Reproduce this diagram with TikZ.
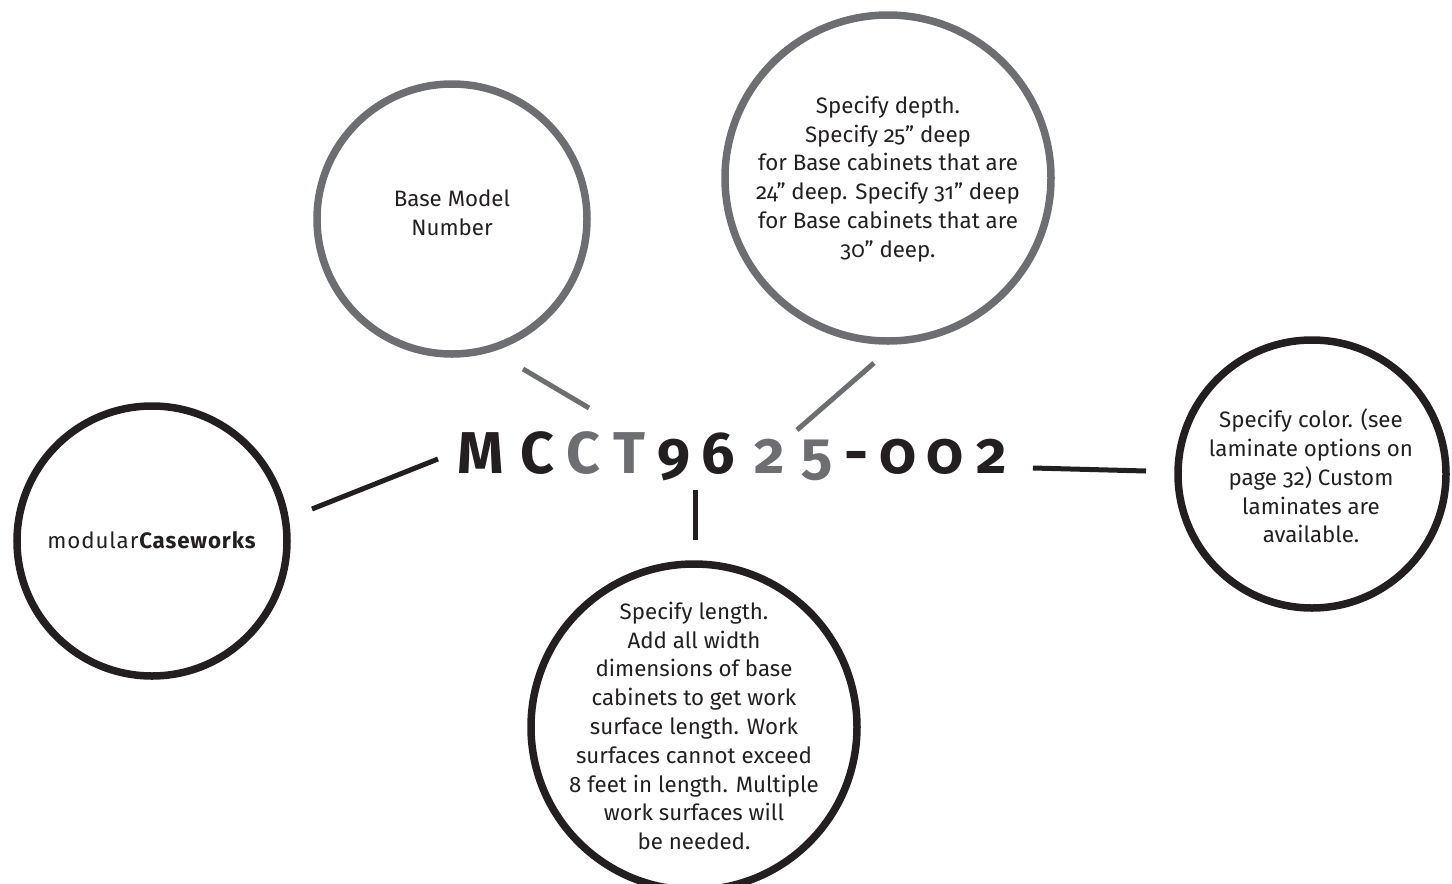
\documentclass[tikz,border=0pt]{standalone}
\usepackage{fontspec}
\setmainfont{Fira Sans}[Numbers=OldStyle]
\definecolor{ink}{HTML}{231F20}
\definecolor{gry}{HTML}{6D6E71}
\begin{document}
\begin{tikzpicture}[x=1pt,y=-1pt,
  ring/.style={circle, draw=#1, line width=7.5pt, inner sep=0pt},
  body/.style={align=center, text=ink, inner sep=0pt, font=\fontsize{22.3}{28.8}\selectfont},
  code/.style={anchor=base, inner sep=0pt, text=#1, font=\fontsize{59}{59}\selectfont\bfseries},
  link/.style={draw=#1, line width=5pt}]
\useasboundingbox (0,0) rectangle (1452,884);
% circles
\node[ring=ink, minimum size=270pt] (cmod) at (152,541) {};
\node[ring=gry, minimum size=270pt] (cbase) at (452,219) {};
\node[ring=gry, minimum size=326pt] (cdepth) at (888,178) {};
\node[ring=ink, minimum size=268pt] (ccolor) at (1312,474) {};
\node[ring=ink, minimum size=326pt] (clength) at (694,727) {};
% texts
\node[body] (tmod) at (152,540) {\addfontfeature{LetterSpace=4}modular\textbf{Caseworks}};
\node[body] (tbase) at (452,213) {Base Model\\Number};
\node[body] (tdepth) at (888,179) {Specify depth.\\Specify 25” deep\\for Base cabinets that are\\24” deep. Specify 31” deep\\for Base cabinets that are\\30” deep.};
\node[body] (tcolor) at (1311,476) {Specify color. (see\\laminate options on\\page 32) Custom\\laminates are\\available.};
\node[body] (tlength) at (694,726) {Specify length.\\Add all width\\dimensions of base\\cabinets to get work\\surface length. Work\\surfaces cannot exceed\\8 feet in length. Multiple\\work surfaces will\\be needed.};
% code letters
\node[code=ink] (kM) at (481,473) {M};
\node[code=ink] (kC1) at (537,473) {C};
\node[code=gry] (kC2) at (583,473) {C};
\node[code=gry] (kT) at (629,473) {T};
\node[code=ink] (k9) at (674,473) {9};
\node[code=ink] (k6) at (718,473) {6};
\node[code=gry] (k2a) at (770,473) {2};
\node[code=gry] (k5) at (817,473) {5};
\node[code=ink] (kdash) at (856,473) {-};
\node[code=ink] (k0a) at (898,473) {0};
\node[code=ink] (k0b) at (945,473) {0};
\node[code=ink] (k2b) at (992,473) {2};
% connector end points
\coordinate (pmodA) at (312,509);
\coordinate (pmodB) at (438,459);
\coordinate (pbaseA) at (523,369);
\coordinate (pbaseB) at (589,408);
\coordinate (pdepA) at (874,363);
\coordinate (pdepB) at (797,430);
\coordinate (plenA) at (695,490);
\coordinate (plenB) at (695,540);
\coordinate (pcolA) at (1033,468);
\coordinate (pcolB) at (1146,471);
% connectors
\draw[link=ink] (pmodA) -- (pmodB);
\draw[link=gry] (pbaseA) -- (pbaseB);
\draw[link=gry] (pdepA) -- (pdepB);
\draw[link=ink] (plenA) -- (plenB);
\draw[link=ink] (pcolA) -- (pcolB);
\end{tikzpicture}
\end{document}
